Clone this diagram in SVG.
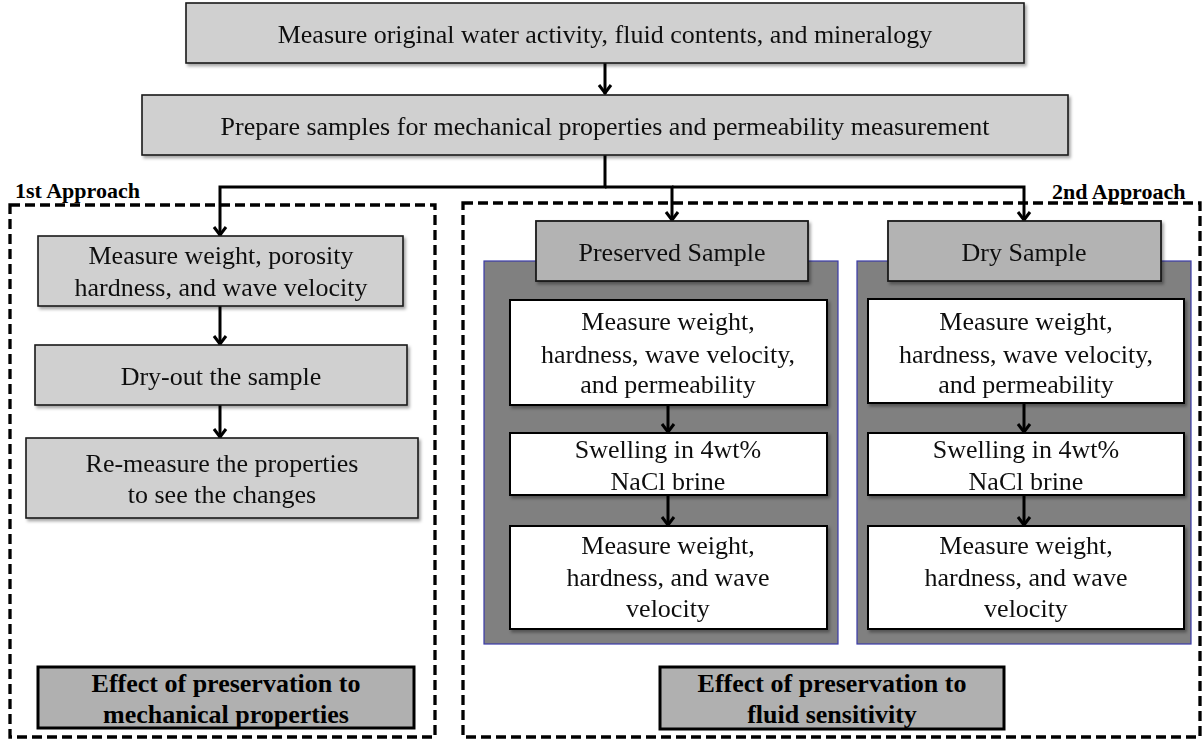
<svg xmlns="http://www.w3.org/2000/svg" width="1202" height="740" viewBox="0 0 1202 740">
<style>
.t{font-family:"Liberation Serif","DejaVu Serif","Times New Roman",serif;font-size:26px;font-weight:normal;fill:#111;text-anchor:middle}
.b{font-family:"Liberation Serif","DejaVu Serif","Times New Roman",serif;font-size:26px;font-weight:bold;fill:#000;text-anchor:middle}
.lab{font-family:"Liberation Serif","DejaVu Serif","Times New Roman",serif;font-size:22px;font-weight:bold;fill:#000}
.lg{fill:#d0d0d0;stroke:#1a1a1a;stroke-width:1.6}
.hd{fill:#b3b3b3;stroke:#1a1a1a;stroke-width:1.8}
.wh{fill:#ffffff;stroke:#000;stroke-width:2}
.pn{fill:#808080;stroke:#3a3aa8;stroke-width:1.2}
.ef{fill:#b0b0b0;stroke:#000;stroke-width:3}
.dash{fill:none;stroke:#000;stroke-width:3.3;stroke-dasharray:10 5}
.c{fill:none;stroke:#000;stroke-width:3}
</style>
<defs>
<filter id="sh" x="-5%" y="-10%" width="115%" height="130%">
<feDropShadow dx="2" dy="2.5" stdDeviation="1.5" flood-color="#000" flood-opacity="0.35"/>
</filter>
<marker id="ar" markerUnits="userSpaceOnUse" markerWidth="16" markerHeight="16" viewBox="0 0 16 16" refX="13" refY="8" orient="auto">
<path d="M4,2 L12,8 L4,14" fill="none" stroke="#000" stroke-width="3"/>
</marker>
</defs>

<g id="approach1-frame">
<rect class="dash" x="10" y="205" width="425" height="532"/>
<text class="lab" x="15" y="198">1st Approach</text>
</g>
<g id="approach2-frame">
<rect class="dash" x="463" y="203" width="737" height="534"/>
<text class="lab" x="1052" y="199">2nd Approach</text>
</g>

<g id="panel-preserved"><rect class="pn" x="484" y="261" width="354" height="383"/></g>
<g id="panel-dry"><rect class="pn" x="857" y="261" width="334" height="383"/></g>

<g id="connectors">
<path class="c" d="M605,63 V94" marker-end="url(#ar)"/>
<path class="c" d="M605,155 V187 H220 V236" marker-end="url(#ar)"/>
<path class="c" d="M605,187 H672 V221" marker-end="url(#ar)"/>
<path class="c" d="M672,187 H1024 V221" marker-end="url(#ar)"/>
<path class="c" d="M220,306 V345" marker-end="url(#ar)"/>
<path class="c" d="M220,405 V438" marker-end="url(#ar)"/>
<path class="c" d="M668,405 V433" marker-end="url(#ar)"/>
<path class="c" d="M668,495 V526" marker-end="url(#ar)"/>
<path class="c" d="M1024,403 V433" marker-end="url(#ar)"/>
<path class="c" d="M1024,495 V526" marker-end="url(#ar)"/>
</g>

<g id="n-measure-original" filter="url(#sh)">
<rect class="lg" x="186" y="3" width="838" height="60"/>
<text class="t" x="605" y="43">Measure original water activity, fluid contents, and mineralogy</text>
</g>
<g id="n-prepare" filter="url(#sh)">
<rect class="lg" x="142" y="95" width="926" height="60"/>
<text class="t" x="605" y="135">Prepare samples for mechanical properties and permeability measurement</text>
</g>

<g id="n-a1-measure" filter="url(#sh)">
<rect class="lg" x="38" y="236" width="365" height="70"/>
<text class="t" x="221" y="264">Measure weight, porosity</text>
<text class="t" x="221" y="296">hardness, and wave velocity</text>
</g>
<g id="n-a1-dry" filter="url(#sh)">
<rect class="lg" x="35" y="345" width="372" height="60"/>
<text class="t" x="221" y="385">Dry-out the sample</text>
</g>
<g id="n-a1-remeasure" filter="url(#sh)">
<rect class="lg" x="26" y="438" width="392" height="80"/>
<text class="t" x="222" y="472">Re-measure the properties</text>
<text class="t" x="222" y="503">to see the changes</text>
</g>
<g id="n-a1-effect">
<rect class="ef" x="38" y="667" width="376" height="61"/>
<text class="b" x="226" y="692">Effect of preservation to</text>
<text class="b" x="226" y="723">mechanical properties</text>
</g>

<g id="n-preserved" filter="url(#sh)">
<rect class="hd" x="536" y="221" width="272" height="60"/>
<text class="t" x="672" y="261">Preserved Sample</text>
</g>
<g id="n-p-measure1" filter="url(#sh)">
<rect class="wh" x="510" y="300" width="317" height="105"/>
<text class="t" x="668" y="330">Measure weight,</text>
<text class="t" x="668" y="363">hardness, wave velocity,</text>
<text class="t" x="668" y="393">and permeability</text>
</g>
<g id="n-p-swell" filter="url(#sh)">
<rect class="wh" x="510" y="433" width="317" height="62"/>
<text class="t" x="668" y="458">Swelling in 4wt%</text>
<text class="t" x="668" y="490">NaCl brine</text>
</g>
<g id="n-p-measure2" filter="url(#sh)">
<rect class="wh" x="510" y="526" width="317" height="103"/>
<text class="t" x="668" y="554">Measure weight,</text>
<text class="t" x="668" y="586">hardness, and wave</text>
<text class="t" x="668" y="617">velocity</text>
</g>

<g id="n-dry" filter="url(#sh)">
<rect class="hd" x="888" y="221" width="273" height="60"/>
<text class="t" x="1024" y="261">Dry Sample</text>
</g>
<g id="n-d-measure1" filter="url(#sh)">
<rect class="wh" x="868" y="299" width="316" height="104"/>
<text class="t" x="1026" y="330">Measure weight,</text>
<text class="t" x="1026" y="363">hardness, wave velocity,</text>
<text class="t" x="1026" y="393">and permeability</text>
</g>
<g id="n-d-swell" filter="url(#sh)">
<rect class="wh" x="868" y="433" width="316" height="62"/>
<text class="t" x="1026" y="458">Swelling in 4wt%</text>
<text class="t" x="1026" y="490">NaCl brine</text>
</g>
<g id="n-d-measure2" filter="url(#sh)">
<rect class="wh" x="868" y="526" width="316" height="103"/>
<text class="t" x="1026" y="554">Measure weight,</text>
<text class="t" x="1026" y="586">hardness, and wave</text>
<text class="t" x="1026" y="617">velocity</text>
</g>

<g id="n-a2-effect">
<rect class="ef" x="660" y="667" width="344" height="62"/>
<text class="b" x="832" y="692">Effect of preservation to</text>
<text class="b" x="832" y="723">fluid sensitivity</text>
</g>
</svg>
